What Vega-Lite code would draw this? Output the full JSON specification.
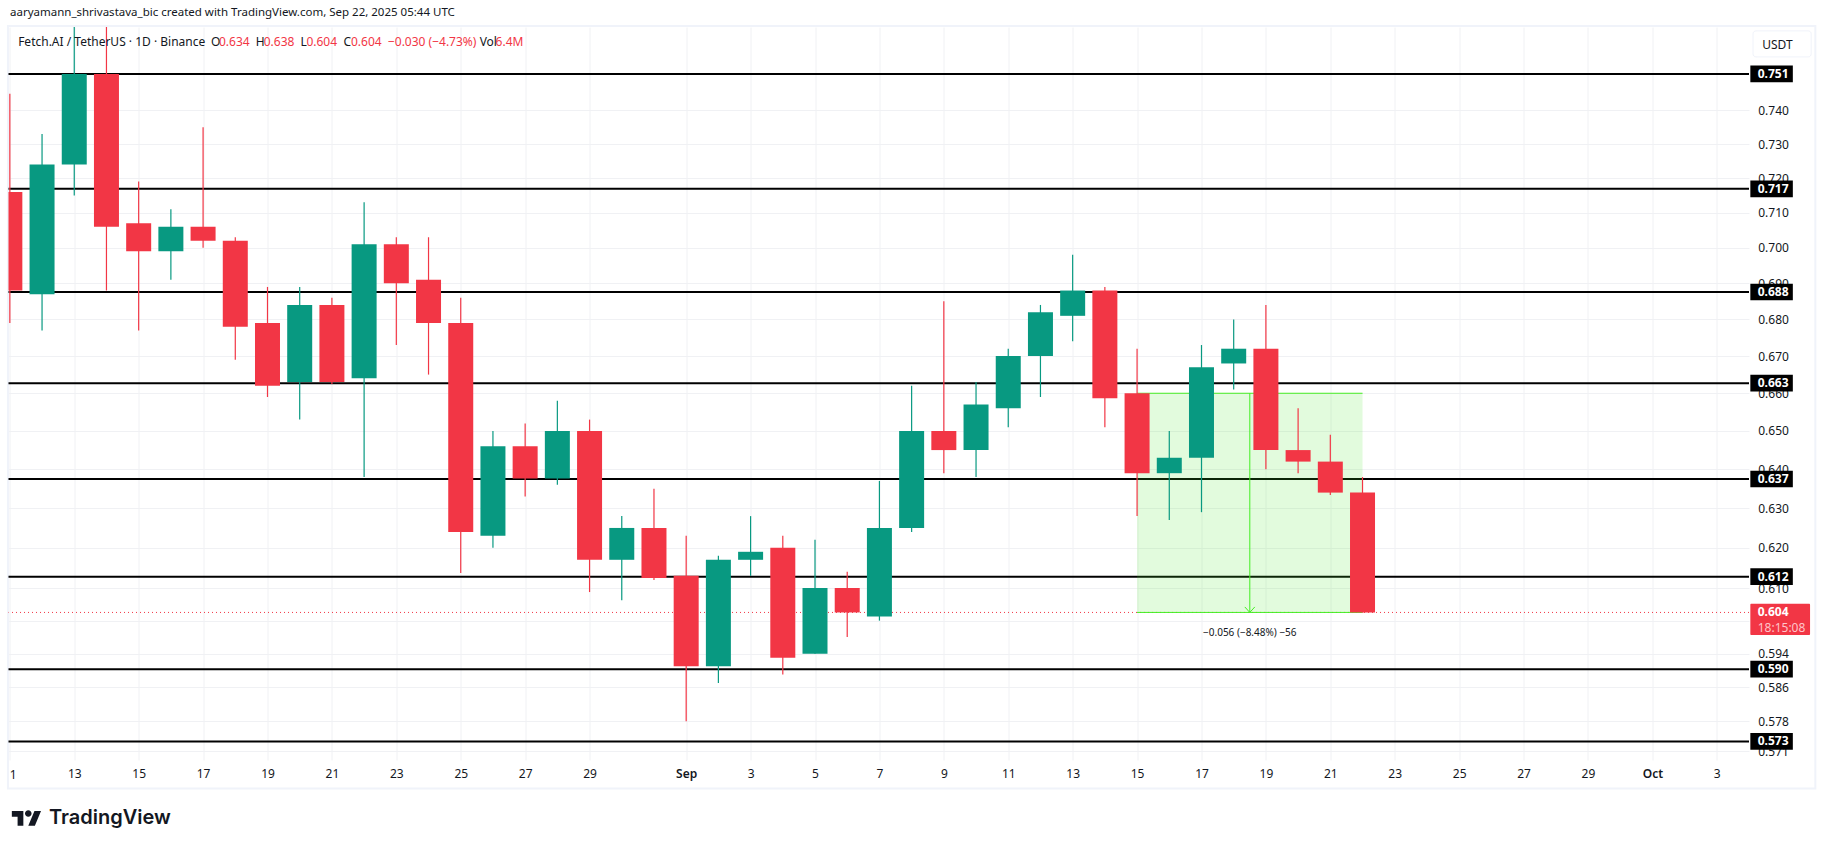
{
  "$schema": "https://vega.github.io/schema/vega-lite/v6.json",
  "autosize": "none",
  "width": 1740.5,
  "height": 733,
  "padding": {"left": 8.5, "top": 27, "right": 76, "bottom": 89},
  "background": "#ffffff",
  "title": {
    "text": "aaryamann_shrivastava_bic created with TradingView.com, Sep 22, 2025 05:44 UTC",
    "anchor": "start", "frame": "group", "offset": 7, "dx": 1.5,
    "font": "Noto Sans", "fontSize": 11.5, "fontWeight": "normal", "color": "#131722"
  },
  "datasets": {
    "candles": [
      {"date": "2025-08-11", "open": 0.716, "high": 0.745, "low": 0.679, "close": 0.688, "dir": "down"},
      {"date": "2025-08-12", "open": 0.687, "high": 0.733, "low": 0.677, "close": 0.724, "dir": "up"},
      {"date": "2025-08-13", "open": 0.724, "high": 0.772, "low": 0.715, "close": 0.751, "dir": "up"},
      {"date": "2025-08-14", "open": 0.751, "high": 0.772, "low": 0.688, "close": 0.706, "dir": "down"},
      {"date": "2025-08-15", "open": 0.707, "high": 0.719, "low": 0.677, "close": 0.699, "dir": "down"},
      {"date": "2025-08-16", "open": 0.699, "high": 0.711, "low": 0.691, "close": 0.706, "dir": "up"},
      {"date": "2025-08-17", "open": 0.706, "high": 0.735, "low": 0.700, "close": 0.702, "dir": "down"},
      {"date": "2025-08-18", "open": 0.702, "high": 0.703, "low": 0.669, "close": 0.678, "dir": "down"},
      {"date": "2025-08-19", "open": 0.679, "high": 0.689, "low": 0.659, "close": 0.662, "dir": "down"},
      {"date": "2025-08-20", "open": 0.663, "high": 0.689, "low": 0.653, "close": 0.684, "dir": "up"},
      {"date": "2025-08-21", "open": 0.684, "high": 0.686, "low": 0.6625, "close": 0.663, "dir": "down"},
      {"date": "2025-08-22", "open": 0.664, "high": 0.713, "low": 0.638, "close": 0.701, "dir": "up"},
      {"date": "2025-08-23", "open": 0.701, "high": 0.703, "low": 0.673, "close": 0.690, "dir": "down"},
      {"date": "2025-08-24", "open": 0.691, "high": 0.703, "low": 0.665, "close": 0.679, "dir": "down"},
      {"date": "2025-08-25", "open": 0.679, "high": 0.686, "low": 0.6137, "close": 0.624, "dir": "down"},
      {"date": "2025-08-26", "open": 0.623, "high": 0.650, "low": 0.620, "close": 0.646, "dir": "up"},
      {"date": "2025-08-27", "open": 0.646, "high": 0.652, "low": 0.633, "close": 0.6376, "dir": "down"},
      {"date": "2025-08-28", "open": 0.6376, "high": 0.658, "low": 0.636, "close": 0.650, "dir": "up"},
      {"date": "2025-08-29", "open": 0.650, "high": 0.653, "low": 0.609, "close": 0.617, "dir": "down"},
      {"date": "2025-08-30", "open": 0.617, "high": 0.628, "low": 0.607, "close": 0.625, "dir": "up"},
      {"date": "2025-08-31", "open": 0.625, "high": 0.635, "low": 0.612, "close": 0.6125, "dir": "down"},
      {"date": "2025-09-01", "open": 0.613, "high": 0.623, "low": 0.578, "close": 0.591, "dir": "down"},
      {"date": "2025-09-02", "open": 0.591, "high": 0.618, "low": 0.587, "close": 0.617, "dir": "up"},
      {"date": "2025-09-03", "open": 0.617, "high": 0.628, "low": 0.613, "close": 0.619, "dir": "up"},
      {"date": "2025-09-04", "open": 0.620, "high": 0.623, "low": 0.589, "close": 0.593, "dir": "down"},
      {"date": "2025-09-05", "open": 0.594, "high": 0.622, "low": 0.594, "close": 0.610, "dir": "up"},
      {"date": "2025-09-06", "open": 0.610, "high": 0.614, "low": 0.598, "close": 0.604, "dir": "down"},
      {"date": "2025-09-07", "open": 0.603, "high": 0.637, "low": 0.602, "close": 0.625, "dir": "up"},
      {"date": "2025-09-08", "open": 0.625, "high": 0.662, "low": 0.624, "close": 0.650, "dir": "up"},
      {"date": "2025-09-09", "open": 0.650, "high": 0.685, "low": 0.639, "close": 0.645, "dir": "down"},
      {"date": "2025-09-10", "open": 0.645, "high": 0.663, "low": 0.638, "close": 0.657, "dir": "up"},
      {"date": "2025-09-11", "open": 0.656, "high": 0.672, "low": 0.651, "close": 0.670, "dir": "up"},
      {"date": "2025-09-12", "open": 0.670, "high": 0.684, "low": 0.659, "close": 0.682, "dir": "up"},
      {"date": "2025-09-13", "open": 0.681, "high": 0.698, "low": 0.674, "close": 0.688, "dir": "up"},
      {"date": "2025-09-14", "open": 0.688, "high": 0.689, "low": 0.651, "close": 0.6587, "dir": "down"},
      {"date": "2025-09-15", "open": 0.660, "high": 0.672, "low": 0.628, "close": 0.639, "dir": "down"},
      {"date": "2025-09-16", "open": 0.639, "high": 0.650, "low": 0.627, "close": 0.643, "dir": "up"},
      {"date": "2025-09-17", "open": 0.643, "high": 0.673, "low": 0.629, "close": 0.667, "dir": "up"},
      {"date": "2025-09-18", "open": 0.668, "high": 0.680, "low": 0.661, "close": 0.672, "dir": "up"},
      {"date": "2025-09-19", "open": 0.672, "high": 0.684, "low": 0.640, "close": 0.645, "dir": "down"},
      {"date": "2025-09-20", "open": 0.645, "high": 0.656, "low": 0.639, "close": 0.642, "dir": "down"},
      {"date": "2025-09-21", "open": 0.642, "high": 0.649, "low": 0.6334, "close": 0.634, "dir": "down"},
      {"date": "2025-09-22", "open": 0.634, "high": 0.638, "low": 0.604, "close": 0.604, "dir": "down"}
    ],
    "levels": [
      {"price": 0.751, "label": "0.751"}, {"price": 0.7169, "label": "0.717"},
      {"price": 0.6876, "label": "0.688"}, {"price": 0.6627, "label": "0.663"},
      {"price": 0.6375, "label": "0.637"}, {"price": 0.6128, "label": "0.612"},
      {"price": 0.5903, "label": "0.590"}, {"price": 0.5733, "label": "0.573"}
    ]
  },
  "layer": [
    {
      "data": {"values": [{"name": "frame"}]},
      "mark": {"type": "rect", "fill": null, "stroke": "#f0f3fa", "strokeWidth": 2},
      "encoding": {
        "x": {
          "datum": {"year": 2025, "month": 8, "date": 10, "hours": 22, "minutes": 35, "utc": true}, "type": "temporal",
          "scale": {"type": "utc", "domain": ["2025-08-10T23:00:00Z", "2025-10-04T00:00:00Z"], "nice": false, "padding": 0},
          "axis": {
            "values": ["2025-08-11", "2025-08-13", "2025-08-15", "2025-08-17", "2025-08-19", "2025-08-21", "2025-08-23", "2025-08-25", "2025-08-27", "2025-08-29",
              "2025-09-01", "2025-09-03", "2025-09-05", "2025-09-07", "2025-09-09", "2025-09-11", "2025-09-13", "2025-09-15", "2025-09-17", "2025-09-19", "2025-09-21", "2025-09-23", "2025-09-25", "2025-09-27", "2025-09-29",
              "2025-10-01", "2025-10-03"],
            "title": null, "domain": false, "ticks": false, "grid": true, "gridColor": "#f0f1f4", "gridWidth": 1,
            "labelPadding": 8, "labelFont": "Noto Sans", "labelFontSize": 12, "labelColor": "#131722", "labelOverlap": false, "labelBound": false, "labelFlush": false,
            "labelFontWeight": {"condition": {"test": "utcdate(datum.value) == 1", "value": 600}, "value": 400},
            "labelExpr": "utcmonth(datum.value) == 7 && utcdate(datum.value) == 11 ? '' : utcdate(datum.value) == 1 ? utcFormat(datum.value, '%b') : utcFormat(datum.value, '%-d')"
          }
        },
        "x2": {"datum": {"year": 2025, "month": 10, "date": 6, "hours": 1, "minutes": 26, "utc": true}},
        "y": {
          "datum": 0.7657, "type": "quantitative",
          "scale": {"type": "log", "domain": [0.569, 0.7654], "nice": false, "padding": 0},
          "axis": {
            "orient": "right",
            "values": [0.74, 0.73, 0.72, 0.71, 0.70, 0.69, 0.68, 0.67, 0.66, 0.65, 0.64, 0.63, 0.62, 0.61, 0.602, 0.594, 0.586, 0.578, 0.571],
            "format": ".3f", "title": null, "domain": false, "ticks": false, "grid": true, "gridColor": "#f0f1f4", "gridWidth": 1,
            "labelPadding": 8.7, "labelFont": "Noto Sans", "labelFontSize": 12, "labelColor": "#131722", "labelOverlap": false, "labelBound": false, "labelFlush": false
          }
        },
        "y2": {"datum": 0.5625}
      }
    },
    {
      "data": {"name": "levels"},
      "mark": {"type": "rule", "color": "#000000", "strokeWidth": 2},
      "encoding": {"y": {"field": "price", "type": "quantitative"}}
    },
    {
      "data": {"values": [{"name": "measure"}]},
      "mark": {"type": "rect", "fill": "#4be42c", "opacity": 0.16},
      "encoding": {
        "x": {"datum": {"year": 2025, "month": 9, "date": 15, "utc": true}, "type": "temporal"},
        "x2": {"datum": {"year": 2025, "month": 9, "date": 22, "utc": true}},
        "y": {"datum": 0.660, "type": "quantitative"},
        "y2": {"datum": 0.604}
      }
    },
    {
      "data": {"values": [{"price": 0.604}]},
      "mark": {"type": "rule", "color": "#f23645", "strokeWidth": 1, "strokeDash": [1, 3]},
      "encoding": {"y": {"field": "price", "type": "quantitative"}}
    },
    {
      "data": {"values": [{"price": 0.660}, {"price": 0.604}]},
      "mark": {"type": "rule", "color": "#44ee22", "strokeWidth": 1},
      "encoding": {
        "x": {"datum": {"year": 2025, "month": 9, "date": 15, "utc": true}, "type": "temporal"},
        "x2": {"datum": {"year": 2025, "month": 9, "date": 22, "utc": true}},
        "y": {"field": "price", "type": "quantitative"}
      }
    },
    {
      "data": {"values": [{"name": "arrow"}]},
      "mark": {"type": "rule", "color": "#44ee22", "strokeWidth": 1},
      "encoding": {
        "x": {"datum": {"year": 2025, "month": 9, "date": 18, "hours": 12, "utc": true}, "type": "temporal"},
        "y": {"datum": 0.660, "type": "quantitative"},
        "y2": {"datum": 0.604}
      }
    },
    {
      "data": {"values": [{"name": "arrowhead"}]},
      "mark": {"type": "point", "shape": "M-1,-1.1L0,0L1,-1.1", "size": 100, "filled": false, "stroke": "#44ee22", "strokeWidth": 1, "opacity": 1},
      "encoding": {
        "x": {"datum": {"year": 2025, "month": 9, "date": 18, "hours": 12, "utc": true}, "type": "temporal"},
        "y": {"datum": 0.604, "type": "quantitative"}
      }
    },
    {
      "data": {"name": "candles"},
      "mark": {"type": "rule", "strokeWidth": 1.2, "clip": true},
      "encoding": {
        "x": {"field": "date", "type": "temporal"},
        "y": {"field": "high", "type": "quantitative"},
        "y2": {"field": "low"},
        "color": {"field": "dir", "type": "nominal", "scale": {"domain": ["up", "down"], "range": ["#089981", "#f23645"]}, "legend": null}
      }
    },
    {
      "data": {"name": "candles"},
      "mark": {"type": "bar", "size": 25, "clip": true},
      "encoding": {
        "x": {"field": "date", "type": "temporal"},
        "y": {"field": "open", "type": "quantitative"},
        "y2": {"field": "close"},
        "color": {"field": "dir", "type": "nominal", "legend": null}
      }
    },
    {
      "data": {"name": "levels"},
      "mark": {"type": "bar", "size": 16.7, "color": "#000000"},
      "encoding": {
        "x": {"datum": {"year": 2025, "month": 10, "date": 4, "hours": 1, "utc": true}, "type": "temporal"},
        "x2": {"datum": {"year": 2025, "month": 10, "date": 5, "hours": 8, "minutes": 40, "utc": true}},
        "y": {"field": "price", "type": "quantitative"}
      }
    },
    {
      "data": {"name": "levels"},
      "mark": {"type": "text", "color": "#ffffff", "fontWeight": "bold"},
      "encoding": {
        "x": {"datum": {"year": 2025, "month": 10, "date": 4, "hours": 6, "minutes": 30, "utc": true}, "type": "temporal"},
        "y": {"field": "price", "type": "quantitative"},
        "text": {"field": "label"}
      }
    },
    {
      "data": {"values": [{"name": "lastprice"}]},
      "mark": {"type": "rect", "fill": "#f23645", "cornerRadius": 1},
      "encoding": {
        "x": {"datum": {"year": 2025, "month": 10, "date": 4, "hours": 1, "utc": true}, "type": "temporal"},
        "x2": {"datum": {"year": 2025, "month": 10, "date": 5, "hours": 21, "minutes": 30, "utc": true}},
        "y": {"datum": 0.6061, "type": "quantitative"},
        "y2": {"datum": 0.5985}
      }
    },
    {
      "data": {"values": [{"t": "0.604"}]},
      "mark": {"type": "text", "color": "#ffffff", "fontWeight": "bold"},
      "encoding": {
        "x": {"datum": {"year": 2025, "month": 10, "date": 4, "hours": 6, "minutes": 30, "utc": true}, "type": "temporal"},
        "y": {"datum": 0.604, "type": "quantitative"},
        "text": {"field": "t"}
      }
    },
    {
      "data": {"values": [{"t": "18:15:08"}]},
      "mark": {"type": "text", "color": "#ffc4ca"},
      "encoding": {
        "x": {"datum": {"year": 2025, "month": 10, "date": 4, "hours": 6, "minutes": 30, "utc": true}, "type": "temporal"},
        "y": {"datum": 0.6003, "type": "quantitative"},
        "text": {"field": "t"}
      }
    },
    {
      "data": {"values": [{"t": "−0.056 (−8.48%) −56"}]},
      "mark": {"type": "text", "align": "center", "fontSize": 10},
      "encoding": {
        "x": {"datum": {"year": 2025, "month": 9, "date": 18, "hours": 12, "utc": true}, "type": "temporal"},
        "y": {"datum": 0.599, "type": "quantitative"},
        "text": {"field": "t"}
      }
    },
    {
      "data": {"values": [{"name": "currency"}]},
      "mark": {"type": "rect", "fill": "#ffffff", "stroke": "#f0f3fa", "strokeWidth": 1, "cornerRadius": 3},
      "encoding": {
        "x": {"datum": {"year": 2025, "month": 10, "date": 4, "hours": 3, "utc": true}, "type": "temporal"},
        "x2": {"datum": {"year": 2025, "month": 10, "date": 5, "hours": 22, "minutes": 20, "utc": true}},
        "y": {"datum": 0.7642, "type": "quantitative"},
        "y2": {"datum": 0.7562}
      }
    },
    {
      "data": {"values": [{"t": "USDT"}]},
      "mark": {"type": "text"},
      "encoding": {
        "x": {"datum": {"year": 2025, "month": 10, "date": 4, "hours": 9, "minutes": 50, "utc": true}, "type": "temporal"},
        "y": {"datum": 0.7599, "type": "quantitative"},
        "text": {"field": "t"}
      }
    },
    {
      "data": {"values": [{"t": "1"}]},
      "mark": {"type": "text"},
      "encoding": {
        "x": {"datum": {"year": 2025, "month": 8, "date": 11, "utc": true}, "type": "temporal"},
        "y": {"datum": 0.5655, "type": "quantitative"},
        "text": {"field": "t"}
      }
    },
    {
      "data": {"values": [{"t": "Fetch.AI / TetherUS · 1D · Binance"}]},
      "mark": {"type": "text"},
      "encoding": {
        "x": {"datum": {"year": 2025, "month": 8, "date": 11, "hours": 6, "minutes": 11, "utc": true}, "type": "temporal"},
        "y": {"datum": 0.7608, "type": "quantitative"},
        "text": {"field": "t"}
      }
    },
    {
      "data": {"values": [{"t": "O"}]},
      "mark": {"type": "text"},
      "encoding": {
        "x": {"datum": {"year": 2025, "month": 8, "date": 17, "hours": 5, "minutes": 53, "utc": true}, "type": "temporal"},
        "y": {"datum": 0.7608, "type": "quantitative"},
        "text": {"field": "t"}
      }
    },
    {
      "data": {"values": [{"t": "0.634"}]},
      "mark": {"type": "text", "color": "#f23645"},
      "encoding": {
        "x": {"datum": {"year": 2025, "month": 8, "date": 17, "hours": 11, "minutes": 51, "utc": true}, "type": "temporal"},
        "y": {"datum": 0.7608, "type": "quantitative"},
        "text": {"field": "t"}
      }
    },
    {
      "data": {"values": [{"t": "H"}]},
      "mark": {"type": "text"},
      "encoding": {
        "x": {"datum": {"year": 2025, "month": 8, "date": 18, "hours": 15, "minutes": 17, "utc": true}, "type": "temporal"},
        "y": {"datum": 0.7608, "type": "quantitative"},
        "text": {"field": "t"}
      }
    },
    {
      "data": {"values": [{"t": "0.638"}]},
      "mark": {"type": "text", "color": "#f23645"},
      "encoding": {
        "x": {"datum": {"year": 2025, "month": 8, "date": 18, "hours": 21, "minutes": 10, "utc": true}, "type": "temporal"},
        "y": {"datum": 0.7608, "type": "quantitative"},
        "text": {"field": "t"}
      }
    },
    {
      "data": {"values": [{"t": "L"}]},
      "mark": {"type": "text"},
      "encoding": {
        "x": {"datum": {"year": 2025, "month": 8, "date": 20, "hours": 0, "minutes": 36, "utc": true}, "type": "temporal"},
        "y": {"datum": 0.7608, "type": "quantitative"},
        "text": {"field": "t"}
      }
    },
    {
      "data": {"values": [{"t": "0.604"}]},
      "mark": {"type": "text", "color": "#f23645"},
      "encoding": {
        "x": {"datum": {"year": 2025, "month": 8, "date": 20, "hours": 5, "utc": true}, "type": "temporal"},
        "y": {"datum": 0.7608, "type": "quantitative"},
        "text": {"field": "t"}
      }
    },
    {
      "data": {"values": [{"t": "C"}]},
      "mark": {"type": "text"},
      "encoding": {
        "x": {"datum": {"year": 2025, "month": 8, "date": 21, "hours": 8, "minutes": 43, "utc": true}, "type": "temporal"},
        "y": {"datum": 0.7608, "type": "quantitative"},
        "text": {"field": "t"}
      }
    },
    {
      "data": {"values": [{"t": "0.604"}]},
      "mark": {"type": "text", "color": "#f23645"},
      "encoding": {
        "x": {"datum": {"year": 2025, "month": 8, "date": 21, "hours": 14, "minutes": 14, "utc": true}, "type": "temporal"},
        "y": {"datum": 0.7608, "type": "quantitative"},
        "text": {"field": "t"}
      }
    },
    {
      "data": {"values": [{"t": "−0.030 (−4.73%)"}]},
      "mark": {"type": "text", "color": "#f23645"},
      "encoding": {
        "x": {"datum": {"year": 2025, "month": 8, "date": 22, "hours": 17, "minutes": 44, "utc": true}, "type": "temporal"},
        "y": {"datum": 0.7608, "type": "quantitative"},
        "text": {"field": "t"}
      }
    },
    {
      "data": {"values": [{"t": "Vol"}]},
      "mark": {"type": "text"},
      "encoding": {
        "x": {"datum": {"year": 2025, "month": 8, "date": 25, "hours": 14, "minutes": 5, "utc": true}, "type": "temporal"},
        "y": {"datum": 0.7608, "type": "quantitative"},
        "text": {"field": "t"}
      }
    },
    {
      "data": {"values": [{"t": "6.4M"}]},
      "mark": {"type": "text", "color": "#f23645"},
      "encoding": {
        "x": {"datum": {"year": 2025, "month": 8, "date": 26, "hours": 1, "minutes": 57, "utc": true}, "type": "temporal"},
        "y": {"datum": 0.7608, "type": "quantitative"},
        "text": {"field": "t"}
      }
    },
    {
      "data": {"values": [{"name": "logo"}]},
      "mark": {
        "type": "point", "filled": true, "fill": "#131722", "opacity": 1, "size": 876,
        "shape": "M-.222,.5H-.611V-.111H-1V-.5H-.222ZM.556,.5H.111L.528,-.5H.972ZM-.111,-.333a.222,.222 0 1 0 .444,0a.222,.222 0 1 0 -.444,0Z"
      },
      "encoding": {
        "x": {"datum": {"year": 2025, "month": 8, "date": 11, "hours": 12, "minutes": 31, "utc": true}, "type": "temporal"},
        "y": {"datum": 0.5557, "type": "quantitative"}
      }
    },
    {
      "data": {"values": [{"t": "TradingView"}]},
      "mark": {"type": "text", "font": "Inter", "fontSize": 20, "fontWeight": 600},
      "encoding": {
        "x": {"datum": {"year": 2025, "month": 8, "date": 12, "hours": 5, "minutes": 8, "utc": true}, "type": "temporal"},
        "y": {"datum": 0.5557, "type": "quantitative"},
        "text": {"field": "t"}
      }
    }
  ],
  "config": {
    "view": {"stroke": null},
    "text": {"font": "Noto Sans", "fontSize": 12, "align": "left", "baseline": "middle", "color": "#131722"}
  }
}
